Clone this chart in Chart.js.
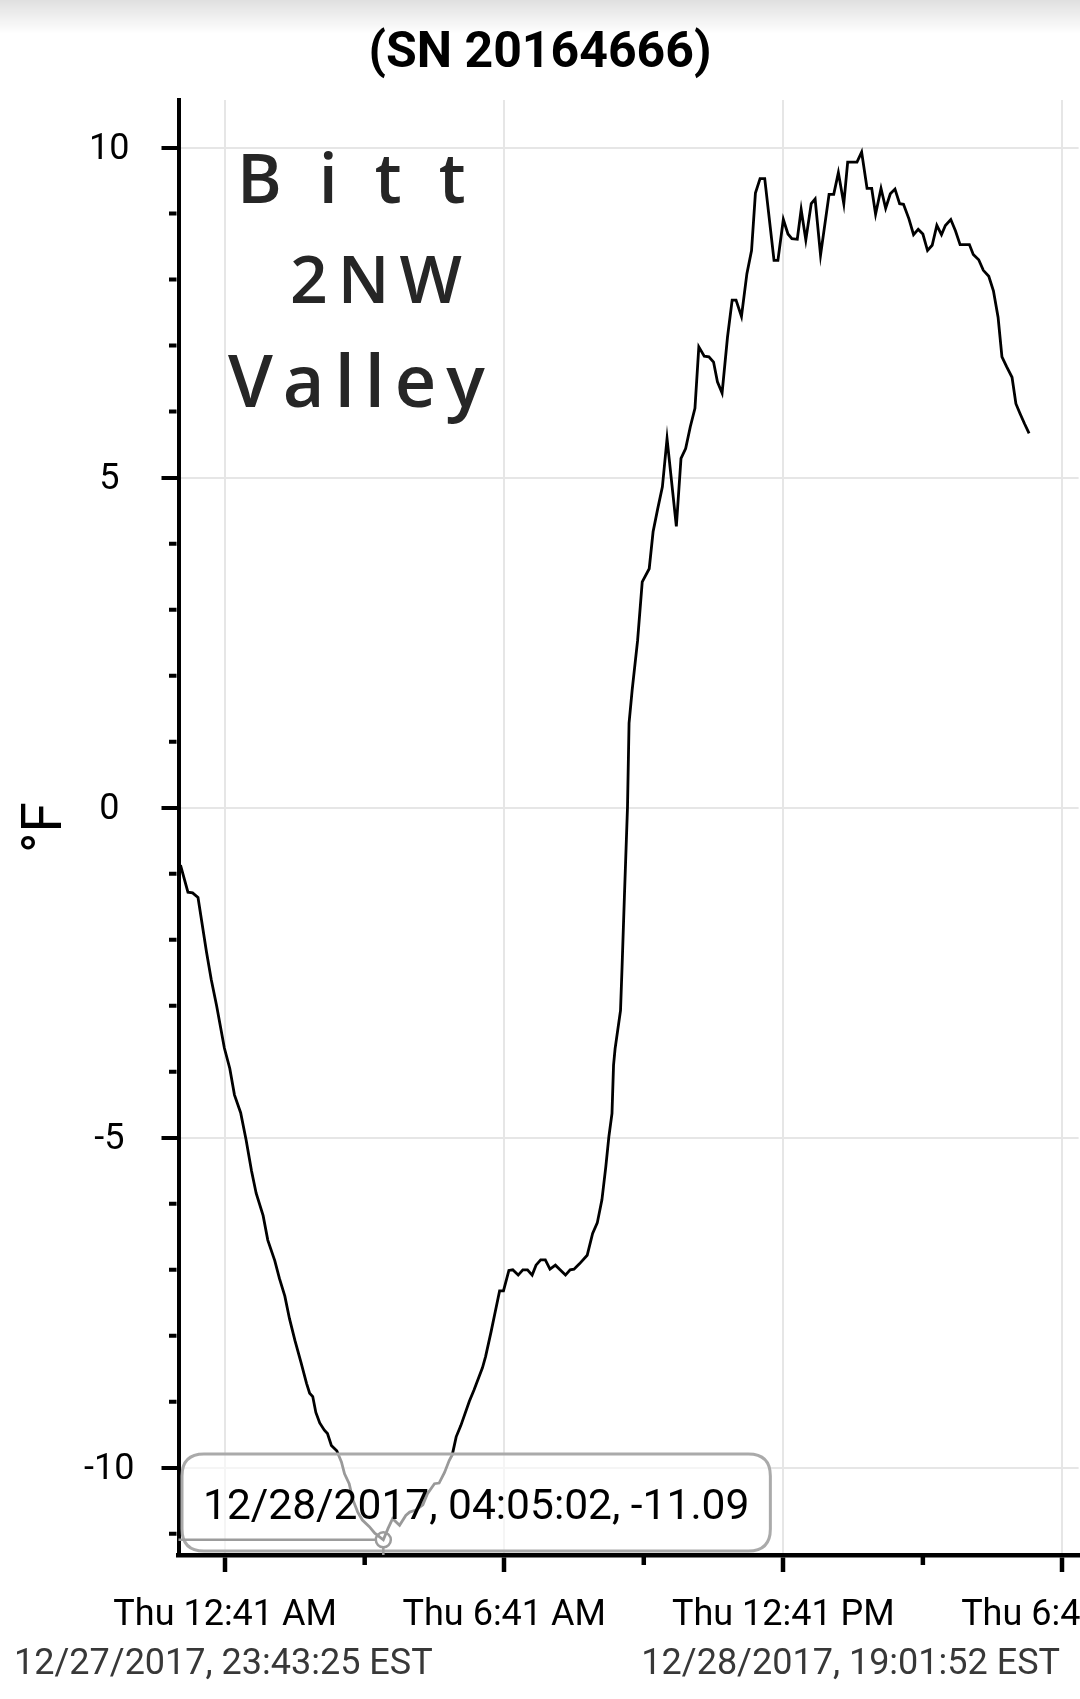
<!DOCTYPE html>
<html><head><meta charset="utf-8">
<script src="https://cdn.jsdelivr.net/npm/chart.js@4.4.1/dist/chart.umd.min.js"></script>
<style>
html,body{margin:0;padding:0;background:#fff;}
body{width:1080px;height:1699px;overflow:hidden;position:relative;font-family:Roboto,sans-serif;}
#wrap{position:absolute;left:0;top:0;width:1080px;height:1699px;}
#chart{display:block;width:1080px;height:1699px;}
#shade{position:absolute;left:0;top:0;width:1080px;height:34px;background:linear-gradient(to bottom,rgba(0,0,0,0.12),rgba(0,0,0,0));pointer-events:none;}
.hw{position:absolute;font-family:'Open Sans',sans-serif;font-weight:600;color:#262626;line-height:1;white-space:nowrap;}
.range{position:absolute;top:1645px;font-family:Roboto,sans-serif;font-size:36px;line-height:35px;color:#383838;white-space:nowrap;}
</style></head><body>
<div id="wrap"><canvas id="chart" width="1080" height="1699"></canvas></div>
<div id="shade"></div>
<div class="hw" id="hw1" style="left:237px;top:143px;font-size:68px;letter-spacing:37px;">Bitt</div>
<div class="hw" id="hw2" style="left:290px;top:244px;font-size:66px;letter-spacing:10px;">2NW</div>
<div class="hw" id="hw3" style="left:228px;top:343px;font-size:72px;letter-spacing:10px;">Valley</div>
<div class="range" id="rs" style="left:14px;"></div>
<div class="range" id="re" style="right:20px;"></div>
<script>
const titleText = '(SN 20164666)';
const yTitle = '°F';
const tz = 'EST';
const xRange = ['2017-12-27 23:40:50', '2017-12-28 19:01:52'];
const yRange = [-11.32, 10.72];
const rangeLabels = ['2017-12-27 23:43:25', '2017-12-28 19:01:52'];
const xMajorTicks = ['2017-12-28 00:41', '2017-12-28 06:41', '2017-12-28 12:41', '2017-12-28 18:41'];
const xMinorTicks = ['2017-12-28 03:41', '2017-12-28 09:41', '2017-12-28 15:41'];

const times = [
'2017-12-27 23:43:25','2017-12-27 23:53','2017-12-27 23:59','2017-12-28 00:06','2017-12-28 00:17','2017-12-28 00:23',
'2017-12-28 00:30','2017-12-28 00:40','2017-12-28 00:47','2017-12-28 00:53','2017-12-28 01:01','2017-12-28 01:08',
'2017-12-28 01:15','2017-12-28 01:21','2017-12-28 01:30','2017-12-28 01:36','2017-12-28 01:45','2017-12-28 01:51',
'2017-12-28 01:58','2017-12-28 02:04','2017-12-28 02:11','2017-12-28 02:19','2017-12-28 02:26','2017-12-28 02:30',
'2017-12-28 02:34','2017-12-28 02:38','2017-12-28 02:43','2017-12-28 02:49','2017-12-28 02:53','2017-12-28 02:58',
'2017-12-28 03:05','2017-12-28 03:11','2017-12-28 03:15','2017-12-28 03:21','2017-12-28 03:26','2017-12-28 03:32',
'2017-12-28 03:38','2017-12-28 03:47','2017-12-28 03:54','2017-12-28 04:05:02','2017-12-28 04:11','2017-12-28 04:17',
'2017-12-28 04:26','2017-12-28 04:34','2017-12-28 04:39','2017-12-28 04:47','2017-12-28 04:56','2017-12-28 05:02',
'2017-12-28 05:11','2017-12-28 05:17','2017-12-28 05:24','2017-12-28 05:30','2017-12-28 05:34','2017-12-28 05:39',
'2017-12-28 05:45','2017-12-28 05:56','2017-12-28 06:02','2017-12-28 06:13','2017-12-28 06:17','2017-12-28 06:24',
'2017-12-28 06:30','2017-12-28 06:35','2017-12-28 06:40','2017-12-28 06:47','2017-12-28 06:52','2017-12-28 06:59',
'2017-12-28 07:05','2017-12-28 07:11','2017-12-28 07:17','2017-12-28 07:22','2017-12-28 07:28','2017-12-28 07:34',
'2017-12-28 07:40','2017-12-28 07:47','2017-12-28 07:53','2017-12-28 08:00','2017-12-28 08:06','2017-12-28 08:11',
'2017-12-28 08:18','2017-12-28 08:28','2017-12-28 08:35','2017-12-28 08:41','2017-12-28 08:47','2017-12-28 08:52',
'2017-12-28 08:56','2017-12-28 09:00','2017-12-28 09:02','2017-12-28 09:04','2017-12-28 09:11','2017-12-28 09:13',
'2017-12-28 09:16','2017-12-28 09:20','2017-12-28 09:22','2017-12-28 09:26','2017-12-28 09:33','2017-12-28 09:39',
'2017-12-28 09:48','2017-12-28 09:53','2017-12-28 09:59','2017-12-28 10:05','2017-12-28 10:11','2017-12-28 10:23',
'2017-12-28 10:29','2017-12-28 10:35','2017-12-28 10:41','2017-12-28 10:47','2017-12-28 10:52','2017-12-28 10:59',
'2017-12-28 11:05','2017-12-28 11:11','2017-12-28 11:16','2017-12-28 11:22','2017-12-28 11:29','2017-12-28 11:35',
'2017-12-28 11:40','2017-12-28 11:47','2017-12-28 11:54','2017-12-28 12:00','2017-12-28 12:05','2017-12-28 12:11',
'2017-12-28 12:17','2017-12-28 12:29','2017-12-28 12:34','2017-12-28 12:41','2017-12-28 12:47','2017-12-28 12:52',
'2017-12-28 12:59','2017-12-28 13:04','2017-12-28 13:10','2017-12-28 13:17','2017-12-28 13:22','2017-12-28 13:29',
'2017-12-28 13:40','2017-12-28 13:46','2017-12-28 13:52','2017-12-28 13:59','2017-12-28 14:04','2017-12-28 14:16',
'2017-12-28 14:22','2017-12-28 14:29','2017-12-28 14:35','2017-12-28 14:40','2017-12-28 14:47','2017-12-28 14:53',
'2017-12-28 14:59','2017-12-28 15:05','2017-12-28 15:11','2017-12-28 15:16','2017-12-28 15:23','2017-12-28 15:29',
'2017-12-28 15:35','2017-12-28 15:41','2017-12-28 15:47','2017-12-28 15:53','2017-12-28 15:59','2017-12-28 16:05',
'2017-12-28 16:10','2017-12-28 16:17','2017-12-28 16:23','2017-12-28 16:29','2017-12-28 16:41','2017-12-28 16:46',
'2017-12-28 16:53','2017-12-28 16:59','2017-12-28 17:06','2017-12-28 17:12','2017-12-28 17:18','2017-12-28 17:23',
'2017-12-28 17:29','2017-12-28 17:36','2017-12-28 17:41','2017-12-28 17:46','2017-12-28 17:52','2017-12-28 17:58'
];
const temps = [
-0.87,-1.28,-1.29,-1.36,-2.19,-2.60,
-3.00,-3.64,-3.95,-4.35,-4.62,-5.03,
-5.50,-5.84,-6.18,-6.55,-6.86,-7.13,
-7.40,-7.74,-8.07,-8.41,-8.72,-8.87,
-8.92,-9.16,-9.32,-9.43,-9.48,-9.66,
-9.74,-9.91,-10.09,-10.24,-10.49,-10.67,
-10.79,-10.89,-10.99,-11.09,-10.92,-10.77,
-10.87,-10.72,-10.67,-10.64,-10.56,-10.39,
-10.24,-10.23,-10.07,-9.89,-9.80,-9.53,
-9.36,-8.99,-8.82,-8.48,-8.31,-7.94,
-7.60,-7.32,-7.32,-7.01,-7.00,-7.08,
-7.00,-7.00,-7.08,-6.93,-6.85,-6.85,
-6.99,-6.93,-7.00,-7.08,-7.00,-6.99,
-6.91,-6.78,-6.45,-6.29,-5.94,-5.44,
-4.98,-4.63,-3.90,-3.65,-3.07,-2.41,
-1.35,0.01,1.28,1.78,2.53,3.42,
3.62,4.18,4.53,4.86,5.59,4.26,
5.29,5.44,5.77,6.05,6.98,6.84,
6.83,6.75,6.45,6.28,7.13,7.69,
7.69,7.44,8.09,8.44,9.31,9.53,
9.53,8.29,8.29,8.91,8.69,8.62,
8.61,9.06,8.60,9.15,9.22,8.37,
9.29,9.29,9.62,9.15,9.78,9.78,
9.93,9.38,9.38,8.99,9.38,9.08,
9.30,9.37,9.15,9.14,8.92,8.68,
8.76,8.69,8.44,8.52,8.82,8.68,
8.82,8.91,8.74,8.53,8.53,8.38,
8.30,8.14,8.05,7.83,7.43,6.83,
6.68,6.52,6.12,5.98,5.82,5.67
];

function toMs(s) {
  const [d, t] = s.split(' ');
  const [Y, M, D] = d.split('-').map(Number);
  const p = t.split(':').map(Number);
  return Date.UTC(Y, M - 1, D, p[0], p[1], p[2] || 0);
}
const pad2 = n => String(n).padStart(2, '0');
function fmtFull(ms) {
  const d = new Date(ms);
  return pad2(d.getUTCMonth() + 1) + '/' + pad2(d.getUTCDate()) + '/' + d.getUTCFullYear() + ', ' +
    pad2(d.getUTCHours()) + ':' + pad2(d.getUTCMinutes()) + ':' + pad2(d.getUTCSeconds());
}
function fmtTick(ms) {
  const d = new Date(ms);
  const days = ['Sun', 'Mon', 'Tue', 'Wed', 'Thu', 'Fri', 'Sat'];
  const h = d.getUTCHours();
  const h12 = h % 12 === 0 ? 12 : h % 12;
  return days[d.getUTCDay()] + ' ' + h12 + ':' + pad2(d.getUTCMinutes()) + ' ' + (h < 12 ? 'AM' : 'PM');
}

document.getElementById('rs').textContent = fmtFull(toMs(rangeLabels[0])) + ' ' + tz;
document.getElementById('re').textContent = fmtFull(toMs(rangeLabels[1])) + ' ' + tz;

const majorMs = xMajorTicks.map(toMs);
const minorMs = xMinorTicks.map(toMs);
const isMajorX = v => majorMs.includes(v);
const isMajorY = v => Math.abs(v % 5) < 1e-9;
const gridColor = '#e6e6e6';
const none = 'rgba(0,0,0,0)';

const minorTicks = {
  id: 'minorTicks',
  afterDraw(chart) {
    const ctx = chart.ctx, ca = chart.chartArea;
    const xs = chart.scales.x, ys = chart.scales.y;
    ctx.save();
    ctx.strokeStyle = '#000';
    ctx.lineWidth = 4.5;
    ctx.beginPath();
    xs.ticks.forEach(t => {
      if (!isMajorX(t.value)) {
        const px = xs.getPixelForValue(t.value);
        ctx.moveTo(px, ca.bottom + 2); ctx.lineTo(px, ca.bottom + 10);
      }
    });
    ctx.stroke();
    ctx.lineWidth = 4;
    ctx.beginPath();
    ys.ticks.forEach(t => {
      if (!isMajorY(t.value)) {
        const py = ys.getPixelForValue(t.value);
        ctx.moveTo(ca.left - 9.5, py); ctx.lineTo(ca.left - 2, py);
      }
    });
    ctx.stroke();
    ctx.restore();
  }
};

const crosshair = {
  id: 'crosshair',
  afterDraw(chart) {
    const act = chart.getActiveElements();
    if (!act.length) return;
    const el = act[0].element;
    const ctx = chart.ctx, ca = chart.chartArea;
    const r = 7.5;
    ctx.save();
    ctx.strokeStyle = '#9c9c9c';
    ctx.lineWidth = 2.5;
    ctx.beginPath();
    ctx.moveTo(ca.left, el.y); ctx.lineTo(el.x - r, el.y);
    ctx.moveTo(el.x, el.y + r); ctx.lineTo(el.x, ca.bottom);
    ctx.stroke();
    ctx.beginPath();
    ctx.arc(el.x, el.y, r, 0, Math.PI * 2);
    ctx.stroke();
    ctx.restore();
  }
};

Chart.Tooltip.positioners.fixedBox = function () {
  const ca = this.chart.chartArea;
  return { x: ca.left + 3.5, y: ca.bottom - 52.5 };
};

const chart = new Chart(document.getElementById('chart'), {
  type: 'line',
  data: {
    datasets: [{
      data: times.map((t, i) => ({ x: toMs(t), y: temps[i] })),
      borderColor: '#000',
      borderWidth: 2.8,
      pointRadius: 0,
      pointHoverRadius: 0,
      tension: 0,
      fill: false
    }]
  },
  options: {
    responsive: false,
    animation: false,
    events: [],
    layout: { padding: 0 },
    plugins: {
      legend: { display: false },
      title: {
        display: true, text: titleText, color: '#000',
        font: { family: 'Roboto', size: 50, weight: 'bold' },
        padding: { top: 24, bottom: 16 }
      },
      tooltip: {
        enabled: true,
        position: 'fixedBox',
        xAlign: 'left', yAlign: 'center',
        caretSize: 0, caretPadding: 0,
        backgroundColor: 'rgba(255,255,255,0.6)',
        borderColor: '#aaaaaa', borderWidth: 3, cornerRadius: 22,
        displayColors: false,
        padding: { left: 21, right: 21, top: 28.5, bottom: 17.5 },
        bodyFont: { family: 'Roboto', size: 42.5 },
        bodyColor: '#000',
        callbacks: {
          title: () => [],
          label: ctx => fmtFull(toMs(times[ctx.dataIndex])) + ', ' + temps[ctx.dataIndex].toFixed(2)
        }
      }
    },
    scales: {
      x: {
        type: 'linear', bounds: 'data',
        min: toMs(xRange[0]), max: toMs(xRange[1]),
        afterBuildTicks: s => { s.ticks = majorMs.concat(minorMs).sort((a, b) => a - b).map(v => ({ value: v })); },
        afterFit: s => { s.height = 144; s.paddingLeft = 0; s.paddingRight = 0; },
        ticks: {
          autoSkip: false, maxRotation: 0, minRotation: 0, padding: 22, color: '#000',
          font: { family: 'Roboto', size: 36 },
          callback: v => isMajorX(v) ? fmtTick(v) : ''
        },
        grid: {
          color: c => (c.tick && isMajorX(c.tick.value)) ? gridColor : none,
          lineWidth: 2, tickLength: 17, tickWidth: 4.5,
          tickColor: c => (c.tick && isMajorX(c.tick.value)) ? '#000' : none
        },
        border: { color: '#000', width: 4.5 }
      },
      y: {
        type: 'linear', bounds: 'data',
        min: yRange[0], max: yRange[1],
        afterBuildTicks: s => {
          const arr = [];
          for (let v = Math.ceil(s.min); v <= s.max; v++) arr.push({ value: v });
          s.ticks = arr;
        },
        afterFit: s => { s.width = 178.5; s.paddingTop = 0; s.paddingBottom = 0; },
        ticks: {
          autoSkip: false, padding: 27, crossAlign: 'center', labelOffset: 2, color: '#000',
          font: { family: 'Roboto', size: 36 },
          callback: v => isMajorY(v) ? String(v) : ''
        },
        grid: {
          color: c => (c.tick && isMajorY(c.tick.value)) ? gridColor : none,
          lineWidth: 2, tickLength: 17, tickWidth: 4,
          tickColor: c => (c.tick && isMajorY(c.tick.value)) ? '#000' : none
        },
        border: { color: '#000', width: 4 },
        title: {
          display: true, text: yTitle, color: '#000',
          font: { family: 'Roboto', size: 55 },
          padding: { top: 14, bottom: 0 }
        }
      }
    }
  },
  plugins: [minorTicks, crosshair]
});

const minIdx = temps.indexOf(Math.min(...temps));
chart.setActiveElements([{ datasetIndex: 0, index: minIdx }]);
chart.tooltip.setActiveElements([{ datasetIndex: 0, index: minIdx }], { x: 0, y: 0 });
chart.update();
</script>
</body></html>
